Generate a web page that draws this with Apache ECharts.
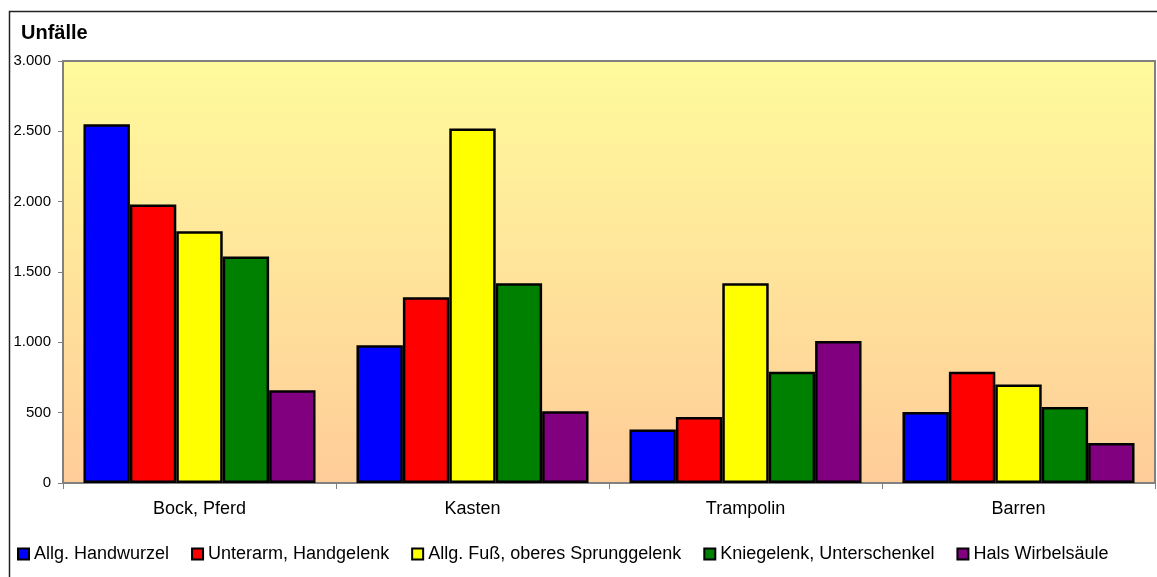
<!DOCTYPE html>
<html>
<head>
<meta charset="utf-8">
<script src="https://cdn.jsdelivr.net/npm/echarts@6/dist/echarts.min.js"></script>
<style>
  html, body { margin: 0; padding: 0; background: #fff; }
  #chart { width: 1157px; height: 577px; }
</style>
</head>
<body>
<div id="chart"></div>
<script>
// Unfälle nach Gerät und Verletzungsregion
const categories = ['Bock, Pferd', 'Kasten', 'Trampolin', 'Barren'];
const seriesNames = [
  'Allg. Handwurzel',
  'Unterarm, Handgelenk',
  'Allg. Fuß, oberes Sprunggelenk',
  'Kniegelenk, Unterschenkel',
  'Hals Wirbelsäule'
];
const handwurzel = [2550, 980, 380, 505];
const unterarm = [1980, 1320, 470, 790];
const fuss = [1790, 2520, 1420, 700];
const knie = [1610, 1420, 790, 540];
const hals = [660, 510, 1010, 285];
const seriesColors = ['#0000FF', '#FF0000', '#FFFF00', '#008000', '#800080'];
const seriesValues = [handwurzel, unterarm, fuss, knie, hals];

const fontFamily = 'Liberation Sans, Arial, sans-serif';

function formatThousands(v) {
  return String(v).replace(/\B(?=(\d{3})+(?!\d))/g, '.');
}

const chart = echarts.init(document.getElementById('chart'), null, { renderer: 'canvas' });

chart.setOption({
  animation: false,
  textStyle: { fontFamily: fontFamily },
  title: {
    text: 'Unfälle',
    left: 16,
    top: 18,
    textStyle: { fontSize: 20, fontWeight: 'bold', color: '#000', fontFamily: fontFamily }
  },
  graphic: [{
    type: 'rect',
    shape: { x: 9.5, y: 11.5, width: 1200, height: 620 },
    style: { fill: null, stroke: '#222', lineWidth: 1.5 },
    silent: true,
    z: 0
  }],
  legend: {
    data: seriesNames,
    left: 12,
    top: 540,
    itemWidth: 11,
    itemHeight: 11,
    itemGap: 22,
    icon: 'rect',
    textStyle: { fontSize: 18, color: '#000', fontFamily: fontFamily, padding: [0, 0, 0, 0] }
  },
  grid: {
    left: 63,
    right: 2,
    top: 61,
    bottom: 94,
    show: true,
    borderColor: '#808080',
    borderWidth: 2,
    backgroundColor: new echarts.graphic.LinearGradient(0, 0, 0, 1, [
      { offset: 0, color: '#FFFB9C' },
      { offset: 1, color: '#FFCC99' }
    ])
  },
  xAxis: {
    type: 'category',
    data: categories,
    axisLine: { lineStyle: { color: '#808080', width: 1.5 } },
    axisTick: { show: true, length: 6, lineStyle: { color: '#808080' } },
    axisLabel: { fontSize: 18, color: '#000', margin: 17 }
  },
  yAxis: {
    type: 'value',
    min: 0,
    max: 3000,
    interval: 500,
    splitLine: { show: false },
    axisLine: { show: true, lineStyle: { color: '#808080', width: 1.5 } },
    axisTick: { show: true, length: 5, lineStyle: { color: '#808080' } },
    axisLabel: { fontSize: 15, color: '#000', margin: 12, formatter: formatThousands }
  },
  series: seriesNames.map((name, i) => ({
    name: name,
    type: 'bar',
    data: seriesValues[i],
    barGap: '0%',
    barCategoryGap: '15%',
    itemStyle: { color: seriesColors[i], borderColor: '#000', borderWidth: 2.5 }
  }))
});
</script>
</body>
</html>
